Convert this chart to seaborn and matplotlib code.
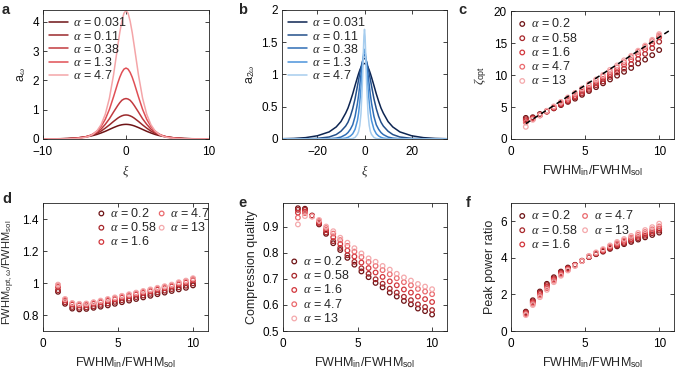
import numpy as np
import matplotlib
matplotlib.use('Agg')
import matplotlib.pyplot as plt
import seaborn as sns
from matplotlib.ticker import FuncFormatter

xi_a = [0, 0.25, 0.5, 0.75, 1, 1.5, 2, 2.5, 3, 3.5, 4, 4.5, 5, 6, 7, 8, 10]
aw_0031 = [0.50, 0.496, 0.486, 0.469, 0.447, 0.39, 0.326, 0.262, 0.206, 0.156, 0.117, 0.087, 0.063, 0.033, 0.017, 0.009, 0.002]
aw_011 = [0.82, 0.813, 0.79, 0.756, 0.71, 0.60, 0.48, 0.37, 0.27, 0.197, 0.140, 0.098, 0.068, 0.032, 0.015, 0.007, 0.002]
aw_038 = [1.38, 1.363, 1.32, 1.239, 1.14, 0.92, 0.69, 0.50, 0.34, 0.23, 0.154, 0.10, 0.066, 0.028, 0.012, 0.005, 0.001]
aw_13 = [2.42, 2.382, 2.27, 2.106, 1.90, 1.44, 1.01, 0.67, 0.43, 0.27, 0.167, 0.103, 0.063, 0.023, 0.0085, 0.003, 0.0]
aw_47 = [4.38, 4.29, 4.02, 3.63, 3.16, 2.19, 1.39, 0.84, 0.49, 0.275, 0.156, 0.087, 0.049, 0.015, 0.005, 0.0015, 0.0]

# ---------------- panel b : a_2omega versus xi
xi_b = [0, 0.25, 0.5, 0.75, 1, 1.5, 2, 2.5, 3, 4, 5, 6, 7, 8, 10, 12, 15, 20, 25, 30, 35]
a2w_0031 = [1.17, 1.168, 1.163, 1.155, 1.145, 1.11, 1.067, 1.014, 0.955, 0.83, 0.70, 0.585, 0.48, 0.40, 0.27, 0.187, 0.11, 0.05, 0.021, 0.009, 0.004]
a2w_011 = [1.25, 1.246, 1.233, 1.213, 1.185, 1.11, 1.02, 0.92, 0.82, 0.625, 0.47, 0.35, 0.26, 0.20, 0.12, 0.069, 0.031, 0.010, 0.003, 0.001, 0.0]
a2w_038 = [1.31, 1.30, 1.27, 1.22, 1.16, 1.00, 0.84, 0.68, 0.55, 0.35, 0.22, 0.15, 0.10, 0.068, 0.030, 0.014, 0.005, 0.001, 0.0, 0.0, 0.0]
a2w_13 = [1.39, 1.36, 1.29, 1.19, 1.06, 0.79, 0.57, 0.40, 0.285, 0.15, 0.081, 0.046, 0.026, 0.014, 0.005, 0.002, 0.0005, 0.0, 0.0, 0.0, 0.0]
a2w_47 = [1.70, 1.59, 1.33, 1.02, 0.77, 0.39, 0.21, 0.116, 0.071, 0.024, 0.008, 0.003, 0.001, 0.0, 0.0, 0.0, 0.0, 0.0, 0.0, 0.0, 0.0]

alpha_ab = ['0.031', '0.11', '0.38', '1.3', '4.7']
reds_ab = ['#6e1416', '#9b2a2c', '#c23a3f', '#e04f55', '#f4a5a8']
blues_ab = ['#0d2552', '#234f8a', '#2f6db5', '#4b93db', '#a7cdee']

# ---------------- panels c-f : versus FWHM_in/FWHM_sol
fwhm_ratio = [1, 1.47, 1.95, 2.42, 2.89, 3.37, 3.84, 4.32, 4.79, 5.26,
              5.74, 6.21, 6.68, 7.16, 7.63, 8.11, 8.58, 9.05, 9.53, 10]
alpha_cf = ['0.2', '0.58', '1.6', '4.7', '13']
reds_cf = ['#6e1416', '#a8282c', '#d2373d', '#ea6a6e', '#f4a9ac']

zeta_opt = {
    '0.2': [3.3, 3.4, 3.9, 4.3, 4.8, 5.3, 5.8, 6.3, 6.9, 7.5, 8.1, 8.7, 9.3, 9.9, 10.5, 11.1, 11.8, 12.4, 13.1, 13.9],
    '0.58': [3.1, 3.3, 3.8, 4.3, 4.8, 5.4, 5.9, 6.5, 7.1, 7.7, 8.4, 9.0, 9.7, 10.4, 11.0, 11.7, 12.5, 13.3, 14.2, 15.2],
    '1.6': [2.9, 3.2, 3.7, 4.3, 4.9, 5.5, 6.1, 6.7, 7.4, 8.0, 8.7, 9.4, 10.1, 10.8, 11.6, 12.4, 13.2, 14.0, 14.9, 15.9],
    '4.7': [2.6, 3.1, 3.7, 4.4, 5.0, 5.7, 6.3, 7.0, 7.7, 8.4, 9.1, 9.8, 10.5, 11.2, 12.0, 12.8, 13.6, 14.4, 15.3, 16.2],
    '13': [1.9, 3.0, 3.7, 4.4, 5.1, 5.8, 6.5, 7.2, 7.9, 8.6, 9.3, 10.0, 10.8, 11.5, 12.3, 13.0, 13.8, 14.6, 15.5, 16.4],
}
fit_x = [1.0, 10.7]
fit_y = [2.4, 16.95]

fwhm_opt = {
    '0.2': [0.945, 0.870, 0.840, 0.835, 0.838, 0.845, 0.852, 0.860, 0.870, 0.880, 0.890, 0.900, 0.910, 0.920, 0.930, 0.940, 0.950, 0.960, 0.970, 0.985],
    '0.58': [0.955, 0.879, 0.850, 0.845, 0.848, 0.855, 0.863, 0.872, 0.882, 0.892, 0.902, 0.912, 0.922, 0.932, 0.942, 0.952, 0.962, 0.973, 0.983, 0.998],
    '1.6': [0.975, 0.891, 0.865, 0.860, 0.862, 0.870, 0.879, 0.888, 0.898, 0.908, 0.918, 0.928, 0.938, 0.948, 0.958, 0.968, 0.978, 0.991, 1.002, 1.017],
    '4.7': [0.986, 0.897, 0.872, 0.867, 0.869, 0.877, 0.886, 0.896, 0.906, 0.916, 0.926, 0.936, 0.946, 0.956, 0.966, 0.976, 0.986, 1.000, 1.011, 1.026],
    '13': [0.990, 0.900, 0.875, 0.870, 0.872, 0.880, 0.890, 0.900, 0.910, 0.920, 0.930, 0.940, 0.950, 0.960, 0.970, 0.980, 0.990, 1.005, 1.015, 1.030],
}

quality = {
    '0.2': [0.970, 0.968, 0.942, 0.908, 0.872, 0.836, 0.810, 0.780, 0.754, 0.728, 0.706, 0.684, 0.667, 0.647, 0.632, 0.615, 0.602, 0.586, 0.576, 0.563],
    '0.58': [0.964, 0.964, 0.941, 0.911, 0.877, 0.844, 0.818, 0.790, 0.765, 0.740, 0.719, 0.698, 0.681, 0.662, 0.647, 0.631, 0.618, 0.602, 0.592, 0.580],
    '1.6': [0.953, 0.957, 0.940, 0.916, 0.886, 0.859, 0.833, 0.808, 0.785, 0.762, 0.741, 0.724, 0.707, 0.690, 0.675, 0.659, 0.647, 0.632, 0.622, 0.611],
    '4.7': [0.934, 0.951, 0.939, 0.922, 0.894, 0.873, 0.848, 0.826, 0.804, 0.783, 0.764, 0.749, 0.733, 0.717, 0.702, 0.687, 0.675, 0.661, 0.651, 0.641],
    '13': [0.908, 0.940, 0.938, 0.925, 0.900, 0.882, 0.857, 0.838, 0.817, 0.797, 0.778, 0.765, 0.749, 0.735, 0.719, 0.705, 0.693, 0.680, 0.670, 0.660],
}

peak_power = {
    '0.2': [1.06, 1.68, 2.16, 2.58, 2.94, 3.25, 3.47, 3.62, 3.84, 4.04, 4.20, 4.34, 4.49, 4.63, 4.75, 4.87, 5.00, 5.12, 5.25, 5.38],
    '0.58': [1.02, 1.62, 2.09, 2.51, 2.88, 3.20, 3.43, 3.61, 3.84, 4.05, 4.22, 4.37, 4.53, 4.68, 4.81, 4.94, 5.08, 5.21, 5.35, 5.49],
    '1.6': [0.97, 1.56, 2.02, 2.43, 2.82, 3.15, 3.40, 3.59, 3.83, 4.07, 4.25, 4.40, 4.58, 4.74, 4.88, 5.02, 5.16, 5.30, 5.44, 5.59],
    '4.7': [0.92, 1.49, 1.94, 2.34, 2.75, 3.08, 3.35, 3.58, 3.83, 4.08, 4.27, 4.44, 4.63, 4.80, 4.95, 5.11, 5.26, 5.41, 5.56, 5.72],
    '13': [0.87, 1.42, 1.85, 2.25, 2.67, 3.02, 3.31, 3.56, 3.82, 4.10, 4.30, 4.48, 4.68, 4.87, 5.03, 5.20, 5.36, 5.52, 5.68, 5.87],
}

sns.set_theme(style='ticks')
plt.rcParams['font.family'] = ['Liberation Sans', 'DejaVu Sans']
plt.rcParams['mathtext.fontset'] = 'custom'
plt.rcParams['mathtext.rm'] = 'Liberation Sans'
plt.rcParams['mathtext.it'] = 'Liberation Serif:italic'
plt.rcParams['mathtext.bf'] = 'Liberation Sans:bold'
plt.rcParams['mathtext.sf'] = 'Liberation Sans'
plt.rcParams['axes.linewidth'] = 0.6
plt.rcParams['axes.edgecolor'] = '#222222'

W, H = 676, 369
fig = plt.figure(figsize=(W / 100, H / 100), dpi=100)


def ejes(left, top, right, bottom):
    return fig.add_axes([left / W, 1 - bottom / H, (right - left) / W, (bottom - top) / H])


fmt = FuncFormatter(lambda v, p: ('%g' % v).replace('-', '\u2212'))


def estilo(ax, xlabel, ylabel, ysize=9):
    ax.tick_params(direction='in', top=True, right=True, length=3, width=0.6,
                   labelsize=8.5, colors='#222222', labelcolor='black', pad=3)
    ax.tick_params(axis='x', pad=5)
    ax.xaxis.set_major_formatter(fmt)
    ax.yaxis.set_major_formatter(fmt)
    ax.set_xlabel(xlabel, fontsize=9, labelpad=4)
    ax.set_ylabel(ylabel, fontsize=ysize, labelpad=3)


def espejo(x, y):
    x = np.asarray(x, float)
    y = np.asarray(y, float)
    return np.concatenate([-x[:0:-1], x]), np.concatenate([y[:0:-1], y])


def curvas(ax, xs, series, colores):
    for vals, lab, col in zip(series, alpha_ab, colores):
        xx, yy = espejo(xs, vals)
        sns.lineplot(x=xx, y=yy, ax=ax, color=col, lw=1.1, label=r'$\alpha$ = ' + lab,
                     sort=False, estimator=None)
    ax.legend(loc='upper left', frameon=False, fontsize=9, handlelength=1.5,
              handletextpad=0.4, labelspacing=0.02, borderaxespad=0.3,
              borderpad=0.2)


def puntos(ax, datos):
    for lab, col in zip(alpha_cf, reds_cf):
        sns.scatterplot(x=fwhm_ratio, y=datos[lab], ax=ax, marker='o', s=11,
                        color=col, facecolors='none', edgecolor=col, linewidth=0.9,
                        label=r'$\alpha$ = ' + lab, zorder=3)
    ax.set_xlim(0, 11)
    ax.set_xticks([0, 5, 10])


# a
ax = ejes(43, 10, 209, 139)
curvas(ax, xi_a, [aw_0031, aw_011, aw_038, aw_13, aw_47], reds_ab)
ax.set_xlim(-10, 10)
ax.set_ylim(0, 4.4)
ax.set_xticks([-10, 0, 10])
ax.set_yticks([0, 1, 2, 3, 4])
estilo(ax, r'$\xi$', r'a$_{\omega}$')

# b
ax = ejes(282, 10, 447, 139)
curvas(ax, xi_b, [a2w_0031, a2w_011, a2w_038, a2w_13, a2w_47], blues_ab)
ax.set_xlim(-35, 35)
ax.set_ylim(0, 2)
ax.set_xticks([-20, 0, 20])
ax.set_yticks([0, 0.5, 1, 1.5, 2])
estilo(ax, r'$\xi$', r'a$_{2\omega}$')

xlab = r'FWHM$_{\rm in}$/FWHM$_{\rm sol}$'
leg_kw = dict(frameon=False, fontsize=9, handlelength=0.8, handletextpad=0.3,
              labelspacing=0.1, borderpad=0.2)

# c
ax = ejes(511, 11, 674, 139)
puntos(ax, zeta_opt)
sns.lineplot(x=fit_x, y=fit_y, ax=ax, color='black', lw=1.1, zorder=4)
ax.lines[-1].set_dashes([3.5, 2.5])
ax.set_ylim(0, 20)
ax.set_yticks([0, 5, 10, 15, 20])
estilo(ax, xlab, r'$\zeta_{\rm opt}$')
hs, ls = ax.get_legend_handles_labels()
ax.legend(hs[:5], ls[:5], loc='upper left', borderaxespad=0.3, **leg_kw)

# d
ax = ejes(43, 203, 208, 331)
puntos(ax, fwhm_opt)
ax.set_ylim(0.7, 1.5)
ax.set_yticks([0.8, 1, 1.2, 1.4])
estilo(ax, xlab, r'FWHM$_{\rm opt,\,\omega}$/FWHM$_{\rm sol}$', ysize=8)
ax.yaxis.set_label_coords(-0.16, 0.46)
ax.legend(loc='upper right', bbox_to_anchor=(1.035, 1.0), ncol=2,
          columnspacing=0.0, borderaxespad=0.1, **leg_kw)

# e
ax = ejes(283, 203, 447, 331)
puntos(ax, quality)
ax.set_ylim(0.5, 0.99)
ax.set_yticks([0.5, 0.6, 0.7, 0.8, 0.9])
estilo(ax, xlab, 'Compression quality')
ax.legend(loc='lower left', borderaxespad=0.3, **leg_kw)

# f
ax = ejes(511, 203, 674, 331)
puntos(ax, peak_power)
ax.set_ylim(0, 7)
ax.set_yticks([0, 2, 4, 6])
estilo(ax, xlab, 'Peak power ratio')
ax.legend(loc='upper left', ncol=2, columnspacing=0.2, borderaxespad=0.3, **leg_kw)

for letra, (x, y) in zip('abcdef', [(2, 10), (238, 10), (458, 10),
                                   (2, 199), (238, 203), (466, 203)]):
    fig.text(x / W, 1 - y / H, letra, fontsize=10.5, fontweight='bold', va='center')

fig.savefig('out.png', dpi=100)
